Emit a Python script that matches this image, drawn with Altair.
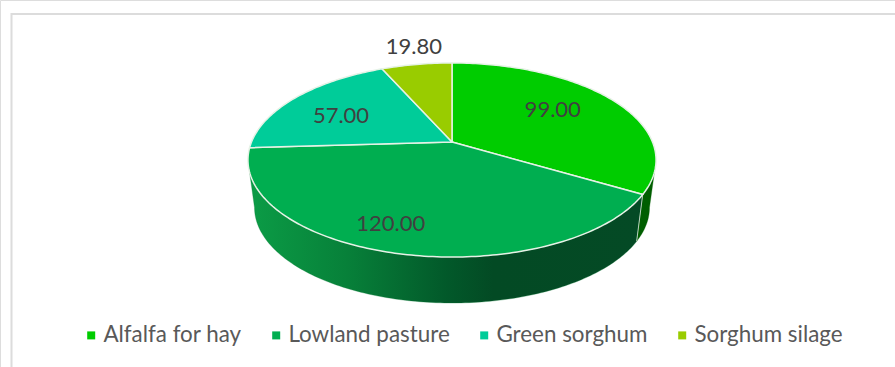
import math
import altair as alt
import pandas as pd

categories = ["Alfalfa for hay", "Lowland pasture", "Green sorghum", "Sorghum silage"]
values = [99.0, 120.0, 57.0, 19.8]
colors = ["#00CC00", "#00AE50", "#00CC99", "#99CC00"]

# Where each value label sits relative to its slice: radial fraction and turn in degrees
label_radius = [0.65, 0.795, 0.65, 1.27]
label_turn = [-4.6, 5.8, -5.0, 1.4]

# Projective view of the disc
CX, CY, RX, RY, TILT = 452.0, 142.0, 200.5, 93.7, 0.1855
DEPTH, SHRINK_X, SHRINK_Y = 47.7, 0.968, 0.985
WALL_START_TOP = 107.6


def project(theta, r=1.0, base=False):
    u = r * math.sin(math.radians(theta))
    v = r * math.cos(math.radians(theta))
    kx = SHRINK_X if base else 1.0
    ky = SHRINK_Y if base else 1.0
    w = 1 + TILT * v
    return CX + kx * RX * u / w, CY + (DEPTH if base else 0) - ky * RY * v / w


def sweep(a, b, step=1.0):
    n = max(2, int(abs(b - a) / step) + 1)
    return [a + (b - a) * i / (n - 1) for i in range(n)]


total = sum(values)
edges = [0.0]
for value in values:
    edges.append(edges[-1] + 360.0 * value / total)

# Top face slices as closed outlines
slice_rows = []
for name, start, end in zip(categories, edges[:-1], edges[1:]):
    outline = [(CX, CY)] + [project(t) for t in sweep(start, end)] + [(CX, CY)]
    for i, (x, y) in enumerate(outline):
        slice_rows.append({"cat": name, "x": x, "y": y, "i": i})
slices_df = pd.DataFrame(slice_rows)


def wall_frame(top_from, top_to, base_from, base_to):
    pts = [project(t) for t in sweep(top_from, top_to)]
    pts += [project(t, base=True) for t in sweep(base_from, base_to)]
    pts.append(pts[0])
    return pd.DataFrame([{"x": x, "y": y, "i": i} for i, (x, y) in enumerate(pts)])


SILHOUETTE = math.degrees(math.acos(-TILT))
seam = edges[1]
lowland_wall = wall_frame(seam, 360 - WALL_START_TOP, 360 - SILHOUETTE, seam)
alfalfa_wall = wall_frame(WALL_START_TOP, seam, seam, SILHOUETTE)

seam_df = pd.DataFrame(
    [dict(zip(("x", "y"), project(seam)), i=0), dict(zip(("x", "y"), project(seam, base=True)), i=1)]
)

label_rows = []
for name, value, start, end, rad, turn in zip(categories, values, edges[:-1], edges[1:], label_radius, label_turn):
    x, y = project((start + end) / 2 + turn, rad)
    label_rows.append({"x": x, "y": y, "text": f"{value:.2f}"})
labels_df = pd.DataFrame(label_rows)

W, H = 895, 367
x_enc = alt.X("x:Q", scale=alt.Scale(domain=[0, W], range=[0, W], nice=False, zero=False), axis=None)
y_enc = alt.Y("y:Q", scale=alt.Scale(domain=[0, H], range=[0, H], nice=False, zero=False), axis=None)

frame_top = alt.Chart(pd.DataFrame({"a": [0]})).mark_rule(color="#dcdcdc", strokeWidth=2).encode(
    x=alt.value(11), x2=alt.value(W), y=alt.value(14)
)
frame_left = alt.Chart(pd.DataFrame({"a": [0]})).mark_rule(color="#dcdcdc", strokeWidth=2).encode(
    x=alt.value(11.5), y=alt.value(13), y2=alt.value(H)
)

lowland_fill = alt.Gradient(
    gradient="linear", x1=0, x2=1, y1=0, y2=0,
    stops=[
        alt.GradientStop(offset=0, color="#0B9C46"),
        alt.GradientStop(offset=0.25, color="#078039"),
        alt.GradientStop(offset=0.5, color="#02592A"),
        alt.GradientStop(offset=0.62, color="#034A24"),
        alt.GradientStop(offset=1, color="#044A25"),
    ],
)
wall_low = alt.Chart(lowland_wall).mark_line(fill=lowland_fill, stroke="#0a7a38", strokeWidth=0.3).encode(
    x=x_enc, y=y_enc, order="i:Q"
)
wall_alf = alt.Chart(alfalfa_wall).mark_line(fill="#005E00", stroke="#005E00", strokeWidth=0.3).encode(
    x=x_enc, y=y_enc, order="i:Q"
)
wall_seam = alt.Chart(seam_df).mark_line(color="#b9cfbf", strokeWidth=1).encode(
    x=x_enc, y=y_enc, order="i:Q"
)

top_face = alt.Chart(slices_df).mark_line(stroke="#E6F2E6", strokeWidth=1.5).encode(
    x=x_enc,
    y=y_enc,
    order="i:Q",
    detail="cat:N",
    fill=alt.Fill(
        "cat:N",
        scale=alt.Scale(domain=categories, range=colors),
        sort=categories,
        legend=alt.Legend(
            title=None,
            orient="none",
            legendX=80,
            legendY=324,
            direction="horizontal",
            columns=4,
            symbolType="square",
            symbolSize=64,
            symbolStrokeWidth=0,
            labelFont="Lato",
            labelFontSize=22.4,
            labelColor="#595959",
            labelOffset=1,
            labelLimit=320,
            columnPadding=23,
            padding=0,
        ),
    ),
)

value_labels = alt.Chart(labels_df).mark_text(
    font="Lato", fontSize=22, color="#404040", align="center", baseline="middle"
).encode(x=x_enc, y=y_enc, text="text:N")

chart = (
    alt.layer(frame_top, frame_left, wall_low, wall_alf, wall_seam, top_face, value_labels)
    .properties(width=W, height=H, padding=0, autosize=alt.AutoSizeParams(type="none"))
    .configure_view(stroke=None)
    .configure(background="white")
)

chart.save("out.html", embed_options={"renderer": "svg", "actions": False})
